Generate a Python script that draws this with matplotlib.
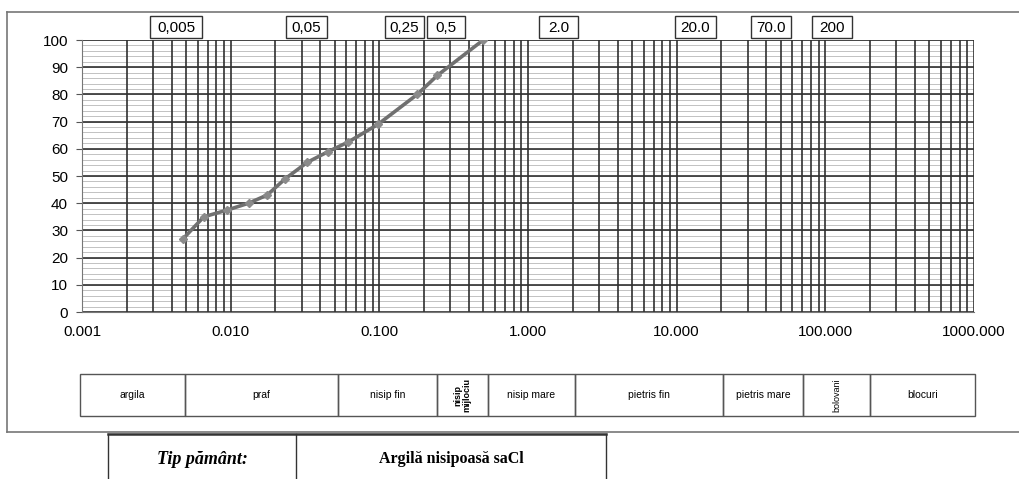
import matplotlib
matplotlib.use("Agg")
import matplotlib.pyplot as plt
from matplotlib.patches import Rectangle
from matplotlib.lines import Line2D
import numpy as np

# granulometric curve (diameter mm, % passing)
diam = [0.0048, 0.0066, 0.0095, 0.0132, 0.0176, 0.0233, 0.0327, 0.0454, 0.0618, 0.098, 0.18, 0.246, 0.50]
passing = [27, 35, 37.5, 40, 43, 49, 55, 59, 62.5, 69, 80, 87, 100]

x_ticks = [0.001, 0.01, 0.1, 1, 10, 100, 1000]
y_ticks = list(range(0, 101, 10))

# boundary labels above the chart and soil class table below
limit_labels = ["0,005", "0,05", "0,25", "0,5", "2.0", "20.0", "70.0", "200"]
soil_classes = ["argila", "praf", "nisip fin", "nisip\nmijlociu", "nisip mare",
                "pietris fin", "pietris mare", "bolovani", "blocuri"]
soil_type = "Argilă nisipoasă saCl"

W, H = 1019, 479
fig = plt.figure(figsize=(W / 100, H / 100), dpi=100)
plt.rcParams["font.family"] = ["Liberation Sans", "DejaVu Sans"]


def fx(px):
    return px / W


def fy(py):
    return 1 - py / H


ax = fig.add_axes([fx(82), fy(312), fx(974) - fx(82), fy(40) - fy(312)])
ax.set_xscale("log")
ax.set_xlim(0.001, 1000)
ax.set_ylim(0, 100)

# dense paper grid
for dec in range(-3, 3):
    for m in range(1, 10):
        ax.axvline(m * 10.0 ** dec, color="#303030", lw=1.2, zorder=1)
ax.axvline(1000, color="#303030", lw=1.2, zorder=1)
for v in np.arange(0, 101, 2):
    ax.axhline(v, color="#b8b8b8", lw=0.6, zorder=0)
for v in y_ticks:
    ax.axhline(v, color="#303030", lw=1.2, zorder=1)

ax.plot(diam, passing, color="#707070", lw=2.6, marker="D", ms=4,
        mfc="#8a8a8a", mec="#8a8a8a", zorder=3)

ax.set_xticks(x_ticks)
ax.set_xticklabels(["%.3f" % t for t in x_ticks])
ax.xaxis.set_minor_locator(matplotlib.ticker.NullLocator())
ax.set_yticks(y_ticks)
ax.tick_params(axis="both", labelsize=11, color="#555555", length=4, pad=6)
ax.tick_params(axis="x", length=0, pad=9)
for s in ["top", "right"]:
    ax.spines[s].set_visible(False)
for s in ["left", "bottom"]:
    ax.spines[s].set_color("#777777")

# outer frame
fig.add_artist(Line2D([fx(7), fx(1019)], [fy(12), fy(12)], color="#777777", lw=1.2))
fig.add_artist(Line2D([fx(7), fx(7)], [fy(12), fy(432)], color="#777777", lw=1.2))
fig.add_artist(Line2D([fx(7), fx(1019)], [fy(432), fy(432)], color="#777777", lw=1.2))

# boxed limit labels on top
box_px = [(150, 202), (286, 327), (385, 424), (427, 465),
          (539, 578), (675, 716), (751, 791), (812, 852)]
for lab, (x0, x1) in zip(limit_labels, box_px):
    fig.add_artist(Rectangle((fx(x0), fy(38)), fx(x1) - fx(x0), fy(16) - fy(38),
                             fill=False, ec="#333333", lw=1.0))
    fig.text(fx((x0 + x1) / 2), fy(27.5), lab, ha="center", va="center", fontsize=11)

# soil class table
edges = [80, 185, 338, 437, 488, 575, 723, 803, 870, 975]
t_top, t_bot = 374, 416
for i, lab in enumerate(soil_classes):
    x0, x1 = edges[i], edges[i + 1]
    fig.add_artist(Rectangle((fx(x0), fy(t_bot)), fx(x1) - fx(x0), fy(t_top) - fy(t_bot),
                             fill=False, ec="#555555", lw=1.0))
    rotated = lab in ("nisip\nmijlociu", "bolovani")
    fw = "bold" if lab == "nisip\nmijlociu" else "normal"
    fig.text(fx((x0 + x1) / 2), fy((t_top + t_bot) / 2), lab, ha="center", va="center",
             fontsize=6.5 if rotated else 7.5, rotation=90 if rotated else 0,
             fontweight=fw, linespacing=0.9)

# soil type box
fig.add_artist(Line2D([fx(108), fx(606)], [fy(434), fy(434)], color="#333333", lw=1.8))
for xp in (108, 296, 606):
    fig.add_artist(Line2D([fx(xp), fx(xp)], [fy(434), fy(479)], color="#333333", lw=1.0))
fig.text(fx(202), fy(459), "Tip pământ:", ha="center", va="center", fontsize=13,
         family=["Liberation Serif", "DejaVu Serif"], fontweight="bold", fontstyle="italic")
fig.text(fx(451), fy(459), soil_type, ha="center", va="center", fontsize=11.5,
         family=["Liberation Serif", "DejaVu Serif"], fontweight="bold")

fig.savefig("out.png", dpi=100)
